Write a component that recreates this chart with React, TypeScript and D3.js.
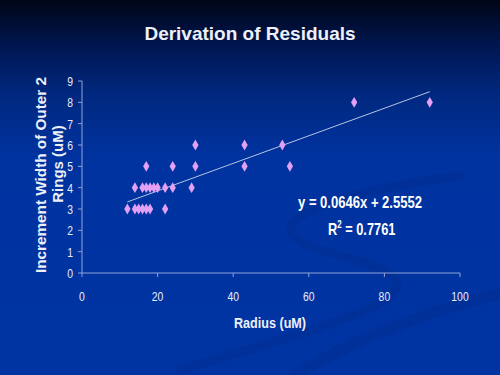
import React from "react";
import * as d3 from "d3";

const radius = [12, 14, 15, 16, 17, 18, 22, 14, 16, 17, 18, 19, 20, 22, 24, 29, 17, 24, 30, 30, 43, 43, 53, 55, 72, 92];
const width = [3, 3, 3, 3, 3, 3, 3, 4, 4, 4, 4, 4, 4, 4, 4, 4, 5, 5, 5, 6, 6, 5, 6, 5, 8, 8];
const xTicks = [0, 20, 40, 60, 80, 100];
const yTicks = [0, 1, 2, 3, 4, 5, 6, 7, 8, 9];
const slope = 0.0646;
const intercept = 2.5552;

export default function App() {
  const W = 500, H = 375;
  const x = d3.scaleLinear().domain([0, 100]).range([82, 460]);
  const y = d3.scaleLinear().domain([0, 9]).range([273, 81]);
  const xMin = d3.min(radius)!, xMax = d3.max(radius)!;
  const trend = d3.line<number>().x(d => x(d)).y(d => y(slope * d + intercept));
  const trendPts = [xMin, xMax];
  const diamond = d3.symbol().type(d3.symbolDiamond).size(34)()!;
  const font = "'Liberation Sans', Arial, sans-serif";
  const narrow = (px: number, py: number, anchor: string, txt: string, key: string) => (
    <text key={key} transform={`translate(${px},${py}) scale(0.8,1)`} textAnchor={anchor} fill="#e8ecf8" fontFamily={font} fontSize={13}>{txt}</text>
  );
  return (
    <svg width={W} height={H} style={{ position: "absolute", left: 0, top: 0 }}>
      <defs>
        <linearGradient id="bg" x1="0" y1="0" x2="0" y2="1">
          <stop offset="0" stopColor="#000616" />
          <stop offset="0.12" stopColor="#001650" />
          <stop offset="0.25" stopColor="#00287f" />
          <stop offset="0.42" stopColor="#0033a0" />
          <stop offset="1" stopColor="#0034a2" />
        </linearGradient>
      </defs>
      <rect width={W} height={H} fill="url(#bg)" />
      <g fill="none" stroke="#002a8a" strokeLinecap="round" opacity={0.35}>
        <path d="M 460 176 C 380 186, 265 212, 296 238 C 325 260, 405 262, 396 288 C 388 310, 300 335, 180 370" strokeWidth={9} />
        <path d="M 505 292 C 440 308, 360 335, 290 378" strokeWidth={11} />
      </g>
      <text x={250} y={40} textAnchor="middle" fill="#eef0f8" fontFamily={font} fontWeight="bold" fontSize={19}>Derivation of Residuals</text>
      <line x1={x(0)} x2={x(0)} y1={y(0)} y2={y(9)} stroke="#8fa3d6" strokeWidth={1} />
      <line x1={x(0)} x2={x(100)} y1={y(0)} y2={y(0)} stroke="#8fa3d6" strokeWidth={1} />
      {yTicks.map(t => (
        <g key={"y" + t}>
          <line x1={x(0) - 4} x2={x(0)} y1={y(t)} y2={y(t)} stroke="#8fa3d6" />
          {narrow(x(0) - 9, y(t) + 5, "end", String(t), "yl" + t)}
        </g>
      ))}
      {xTicks.map(t => (
        <g key={"x" + t}>
          <line x1={x(t)} x2={x(t)} y1={y(0)} y2={y(0) + 4} stroke="#8fa3d6" />
          {narrow(x(t), y(0) + 28, "middle", String(t), "xl" + t)}
        </g>
      ))}
      <path d={trend(trendPts)!} stroke="#b8c4e4" strokeWidth={1} fill="none" />
      {radius.map((r, i) => (
        <path key={i} d={diamond} transform={`translate(${x(r)},${y(width[i])})`} fill="#e4a0f4" />
      ))}
      <text x={270} y={328} textAnchor="middle" fill="#eef0f8" fontFamily={font} fontWeight="bold" fontSize={14} textLength={72} lengthAdjust="spacingAndGlyphs">Radius (uM)</text>
      <g transform="translate(46,175) rotate(-90)">
        <text x={0} y={0} textAnchor="middle" fill="#eef0f8" fontFamily={font} fontWeight="bold" fontSize={15} textLength={196} lengthAdjust="spacingAndGlyphs">Increment Width of Outer 2</text>
        <text x={11} y={17} textAnchor="middle" fill="#eef0f8" fontFamily={font} fontWeight="bold" fontSize={15}>Rings (uM)</text>
      </g>
      <text x={298} y={208} fill="#ffffff" fontFamily={font} fontWeight="bold" fontSize={16} textLength={124} lengthAdjust="spacingAndGlyphs">y = 0.0646x + 2.5552</text>
      <text transform="translate(328,235) scale(0.8,1)" fill="#ffffff" fontFamily={font} fontWeight="bold" fontSize={16}>
        R<tspan dy={-7} fontSize={10}>2</tspan><tspan dy={7}> = 0.7761</tspan>
      </text>
    </svg>
  );
}
